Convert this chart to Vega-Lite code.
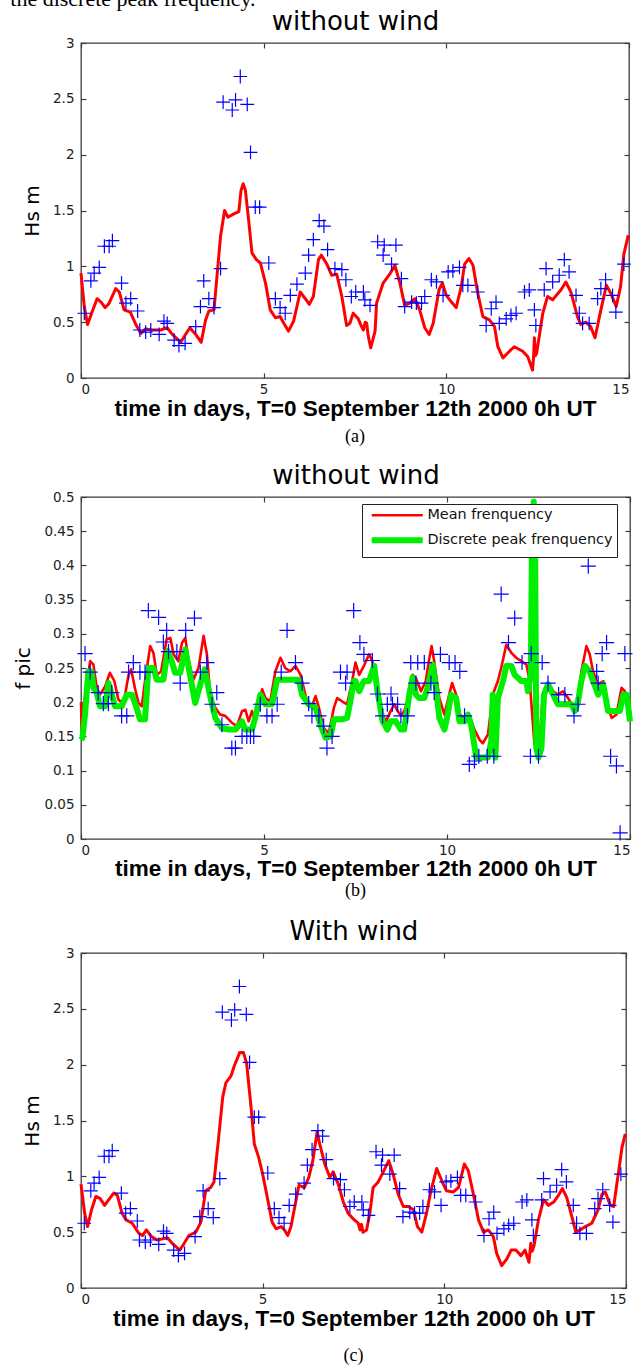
{
  "$schema": "https://vega.github.io/schema/vega-lite/v6.json",
  "padding": {"left": 10, "top": -13, "right": 2, "bottom": 2},
  "title": {"text": "the discrete peak frequency.", "anchor": "start", "font": "Liberation Serif", "fontSize": 22, "fontWeight": "normal", "baseline": "top", "offset": -3, "dx": -3, "color": "#000"},
  "spacing": 14,
  "resolve": {"scale": {"color": "independent"}, "legend": {"color": "independent"}},
  "datasets": {
    "hs_obs": [
      {"t":0.09,"hs":0.58},{"t":0.27,"hs":0.87},{"t":0.36,"hs":0.94},{"t":0.5,"hs":0.99},{"t":0.64,"hs":1.18},{"t":0.77,"hs":1.18},{"t":0.86,"hs":1.23},{"t":1.11,"hs":0.85},{"t":1.23,"hs":0.67},{"t":1.36,"hs":0.71},{"t":1.55,"hs":0.6},{"t":1.61,"hs":0.43},{"t":1.77,"hs":0.41},{"t":1.91,"hs":0.43},{"t":2.14,"hs":0.39},{"t":2.27,"hs":0.51},{"t":2.36,"hs":0.49},{"t":2.55,"hs":0.34},{"t":2.68,"hs":0.29},{"t":2.85,"hs":0.31},{"t":3.14,"hs":0.46},{"t":3.27,"hs":0.64},{"t":3.36,"hs":0.87},{"t":3.5,"hs":0.71},{"t":3.64,"hs":0.63},{"t":3.82,"hs":0.98},{"t":3.89,"hs":2.47},{"t":4.14,"hs":2.4},{"t":4.23,"hs":2.49},{"t":4.36,"hs":2.7},{"t":4.55,"hs":2.45},{"t":4.64,"hs":2.02},{"t":4.77,"hs":1.53},{"t":4.89,"hs":1.53},{"t":5.14,"hs":1.03},{"t":5.32,"hs":0.71},{"t":5.45,"hs":0.63},{"t":5.59,"hs":0.58},{"t":5.73,"hs":0.74},{"t":5.91,"hs":0.84},{"t":6.14,"hs":0.94},{"t":6.23,"hs":1.1},{"t":6.36,"hs":1.24},{"t":6.52,"hs":1.41},{"t":6.65,"hs":1.36},{"t":6.75,"hs":1.15},{"t":6.95,"hs":0.98},{"t":7.14,"hs":0.97},{"t":7.25,"hs":0.88},{"t":7.4,"hs":0.73},{"t":7.52,"hs":0.77},{"t":7.73,"hs":0.77},{"t":7.77,"hs":0.7},{"t":7.91,"hs":0.65},{"t":8.12,"hs":1.22},{"t":8.3,"hs":1.19},{"t":8.27,"hs":1.1},{"t":8.62,"hs":1.19},{"t":8.5,"hs":1.02},{"t":8.77,"hs":0.89},{"t":8.86,"hs":0.64},{"t":9.05,"hs":0.68},{"t":9.18,"hs":0.67},{"t":9.32,"hs":0.67},{"t":9.41,"hs":0.73},{"t":9.59,"hs":0.88},{"t":9.73,"hs":0.86},{"t":9.91,"hs":0.74},{"t":10.05,"hs":0.95},{"t":10.18,"hs":0.96},{"t":10.36,"hs":0.99},{"t":10.45,"hs":0.83},{"t":10.59,"hs":0.83},{"t":10.86,"hs":0.77},{"t":11.09,"hs":0.47},{"t":11.23,"hs":0.62},{"t":11.36,"hs":0.68},{"t":11.45,"hs":0.49},{"t":11.64,"hs":0.53},{"t":11.77,"hs":0.56},{"t":11.91,"hs":0.58},{"t":12.14,"hs":0.77},{"t":12.27,"hs":0.79},{"t":12.41,"hs":0.61},{"t":12.45,"hs":0.47},{"t":12.68,"hs":0.79},{"t":12.73,"hs":0.98},{"t":12.91,"hs":0.86},{"t":13.09,"hs":0.92},{"t":13.23,"hs":1.06},{"t":13.36,"hs":0.95},{"t":13.55,"hs":0.74},{"t":13.64,"hs":0.58},{"t":13.73,"hs":0.49},{"t":13.91,"hs":0.49},{"t":14.14,"hs":0.71},{"t":14.23,"hs":0.8},{"t":14.36,"hs":0.88},{"t":14.55,"hs":0.74},{"t":14.64,"hs":0.59},{"t":14.86,"hs":1.02}
    ],
    "hs_nowind": [
      {"t":0.0,"hs":0.94},{"t":0.09,"hs":0.64},{"t":0.18,"hs":0.48},{"t":0.29,"hs":0.58},{"t":0.44,"hs":0.71},{"t":0.55,"hs":0.68},{"t":0.66,"hs":0.63},{"t":0.77,"hs":0.67},{"t":0.95,"hs":0.8},{"t":1.05,"hs":0.77},{"t":1.18,"hs":0.61},{"t":1.35,"hs":0.59},{"t":1.5,"hs":0.48},{"t":1.64,"hs":0.4},{"t":1.77,"hs":0.44},{"t":1.95,"hs":0.43},{"t":2.18,"hs":0.43},{"t":2.36,"hs":0.45},{"t":2.5,"hs":0.39},{"t":2.73,"hs":0.32},{"t":2.86,"hs":0.39},{"t":2.98,"hs":0.45},{"t":3.14,"hs":0.39},{"t":3.29,"hs":0.32},{"t":3.41,"hs":0.52},{"t":3.5,"hs":0.6},{"t":3.64,"hs":0.61},{"t":3.73,"hs":0.94},{"t":3.82,"hs":1.27},{"t":3.93,"hs":1.5},{"t":4.02,"hs":1.44},{"t":4.18,"hs":1.47},{"t":4.32,"hs":1.49},{"t":4.38,"hs":1.68},{"t":4.44,"hs":1.74},{"t":4.5,"hs":1.68},{"t":4.59,"hs":1.41},{"t":4.68,"hs":1.12},{"t":4.8,"hs":1.06},{"t":4.91,"hs":1.03},{"t":5.05,"hs":0.85},{"t":5.18,"hs":0.61},{"t":5.32,"hs":0.54},{"t":5.45,"hs":0.55},{"t":5.55,"hs":0.49},{"t":5.68,"hs":0.42},{"t":5.82,"hs":0.51},{"t":6.0,"hs":0.77},{"t":6.14,"hs":0.71},{"t":6.25,"hs":0.66},{"t":6.36,"hs":0.73},{"t":6.5,"hs":1.06},{"t":6.58,"hs":1.1},{"t":6.73,"hs":1.02},{"t":6.86,"hs":0.92},{"t":7.0,"hs":0.93},{"t":7.14,"hs":0.73},{"t":7.27,"hs":0.47},{"t":7.36,"hs":0.49},{"t":7.45,"hs":0.58},{"t":7.59,"hs":0.53},{"t":7.68,"hs":0.46},{"t":7.73,"hs":0.43},{"t":7.78,"hs":0.5},{"t":7.82,"hs":0.49},{"t":7.86,"hs":0.38},{"t":7.93,"hs":0.27},{"t":8.05,"hs":0.42},{"t":8.09,"hs":0.67},{"t":8.27,"hs":0.85},{"t":8.45,"hs":0.93},{"t":8.59,"hs":1.01},{"t":8.73,"hs":0.85},{"t":8.86,"hs":0.65},{"t":9.0,"hs":0.67},{"t":9.14,"hs":0.71},{"t":9.27,"hs":0.61},{"t":9.41,"hs":0.45},{"t":9.53,"hs":0.39},{"t":9.64,"hs":0.49},{"t":9.8,"hs":0.79},{"t":9.89,"hs":0.85},{"t":10.0,"hs":0.74},{"t":10.14,"hs":0.68},{"t":10.27,"hs":0.63},{"t":10.41,"hs":0.82},{"t":10.5,"hs":1.02},{"t":10.62,"hs":1.07},{"t":10.73,"hs":1.01},{"t":10.86,"hs":0.76},{"t":11.0,"hs":0.55},{"t":11.18,"hs":0.52},{"t":11.32,"hs":0.46},{"t":11.41,"hs":0.28},{"t":11.55,"hs":0.18},{"t":11.73,"hs":0.24},{"t":11.86,"hs":0.28},{"t":12.09,"hs":0.24},{"t":12.23,"hs":0.19},{"t":12.36,"hs":0.07},{"t":12.39,"hs":0.2},{"t":12.41,"hs":0.36},{"t":12.44,"hs":0.2},{"t":12.47,"hs":0.22},{"t":12.64,"hs":0.58},{"t":12.77,"hs":0.73},{"t":12.91,"hs":0.7},{"t":13.14,"hs":0.79},{"t":13.27,"hs":0.86},{"t":13.41,"hs":0.77},{"t":13.59,"hs":0.55},{"t":13.68,"hs":0.48},{"t":13.82,"hs":0.5},{"t":13.95,"hs":0.46},{"t":14.07,"hs":0.36},{"t":14.23,"hs":0.61},{"t":14.38,"hs":0.83},{"t":14.5,"hs":0.76},{"t":14.65,"hs":0.64},{"t":14.77,"hs":0.82},{"t":14.86,"hs":1.11},{"t":14.98,"hs":1.28}
    ],
    "hs_wind": [
      {"t":0.0,"hs":0.93},{"t":0.1,"hs":0.67},{"t":0.18,"hs":0.55},{"t":0.29,"hs":0.7},{"t":0.41,"hs":0.82},{"t":0.53,"hs":0.8},{"t":0.65,"hs":0.74},{"t":0.76,"hs":0.79},{"t":0.9,"hs":0.85},{"t":1.0,"hs":0.83},{"t":1.13,"hs":0.67},{"t":1.24,"hs":0.61},{"t":1.41,"hs":0.58},{"t":1.59,"hs":0.49},{"t":1.69,"hs":0.47},{"t":1.8,"hs":0.52},{"t":1.94,"hs":0.46},{"t":2.1,"hs":0.43},{"t":2.24,"hs":0.44},{"t":2.38,"hs":0.45},{"t":2.51,"hs":0.4},{"t":2.72,"hs":0.34},{"t":2.84,"hs":0.4},{"t":2.97,"hs":0.47},{"t":3.16,"hs":0.5},{"t":3.3,"hs":0.59},{"t":3.43,"hs":0.87},{"t":3.57,"hs":0.9},{"t":3.66,"hs":0.95},{"t":3.78,"hs":1.32},{"t":3.9,"hs":1.71},{"t":3.99,"hs":1.84},{"t":4.13,"hs":1.9},{"t":4.22,"hs":1.99},{"t":4.37,"hs":2.11},{"t":4.47,"hs":2.11},{"t":4.56,"hs":2.01},{"t":4.68,"hs":1.62},{"t":4.77,"hs":1.29},{"t":4.89,"hs":1.17},{"t":5.0,"hs":1.02},{"t":5.14,"hs":0.79},{"t":5.26,"hs":0.59},{"t":5.37,"hs":0.53},{"t":5.51,"hs":0.55},{"t":5.6,"hs":0.52},{"t":5.69,"hs":0.47},{"t":5.78,"hs":0.55},{"t":5.92,"hs":0.79},{"t":6.0,"hs":0.92},{"t":6.15,"hs":0.9},{"t":6.27,"hs":0.99},{"t":6.38,"hs":1.14},{"t":6.5,"hs":1.4},{"t":6.57,"hs":1.29},{"t":6.71,"hs":1.11},{"t":6.85,"hs":0.99},{"t":6.94,"hs":1.04},{"t":7.08,"hs":0.93},{"t":7.22,"hs":0.77},{"t":7.35,"hs":0.67},{"t":7.49,"hs":0.62},{"t":7.63,"hs":0.58},{"t":7.68,"hs":0.52},{"t":7.72,"hs":0.57},{"t":7.76,"hs":0.5},{"t":7.86,"hs":0.52},{"t":7.95,"hs":0.67},{"t":8.04,"hs":0.9},{"t":8.18,"hs":0.95},{"t":8.32,"hs":1.04},{"t":8.47,"hs":1.14},{"t":8.59,"hs":1.02},{"t":8.73,"hs":0.84},{"t":8.87,"hs":0.73},{"t":9.01,"hs":0.73},{"t":9.15,"hs":0.7},{"t":9.26,"hs":0.55},{"t":9.38,"hs":0.5},{"t":9.51,"hs":0.67},{"t":9.63,"hs":0.87},{"t":9.79,"hs":1.07},{"t":9.93,"hs":0.96},{"t":10.06,"hs":0.87},{"t":10.25,"hs":0.86},{"t":10.39,"hs":0.9},{"t":10.55,"hs":1.11},{"t":10.66,"hs":1.05},{"t":10.8,"hs":0.84},{"t":10.94,"hs":0.61},{"t":11.08,"hs":0.5},{"t":11.21,"hs":0.52},{"t":11.35,"hs":0.46},{"t":11.44,"hs":0.31},{"t":11.58,"hs":0.2},{"t":11.72,"hs":0.26},{"t":11.84,"hs":0.34},{"t":11.97,"hs":0.34},{"t":12.11,"hs":0.29},{"t":12.22,"hs":0.34},{"t":12.33,"hs":0.23},{"t":12.38,"hs":0.4},{"t":12.42,"hs":0.33},{"t":12.47,"hs":0.38},{"t":12.59,"hs":0.61},{"t":12.73,"hs":0.79},{"t":12.87,"hs":0.74},{"t":13.01,"hs":0.77},{"t":13.14,"hs":0.83},{"t":13.25,"hs":0.89},{"t":13.37,"hs":0.81},{"t":13.51,"hs":0.64},{"t":13.62,"hs":0.5},{"t":13.74,"hs":0.52},{"t":13.88,"hs":0.55},{"t":14.06,"hs":0.58},{"t":14.23,"hs":0.7},{"t":14.34,"hs":0.84},{"t":14.43,"hs":0.86},{"t":14.57,"hs":0.74},{"t":14.66,"hs":0.73},{"t":14.8,"hs":1.05},{"t":14.89,"hs":1.26},{"t":14.98,"hs":1.38}
    ],
    "f_obs": [
      {"t":0.11,"f":0.271},{"t":0.25,"f":0.244},{"t":0.47,"f":0.214},{"t":0.61,"f":0.198},{"t":0.75,"f":0.198},{"t":0.84,"f":0.214},{"t":1.11,"f":0.18},{"t":1.25,"f":0.18},{"t":1.3,"f":0.244},{"t":1.43,"f":0.258},{"t":1.61,"f":0.244},{"t":1.75,"f":0.244},{"t":1.84,"f":0.334},{"t":2.12,"f":0.324},{"t":2.25,"f":0.288},{"t":2.34,"f":0.305},{"t":2.39,"f":0.274},{"t":2.62,"f":0.274},{"t":2.71,"f":0.228},{"t":2.86,"f":0.305},{"t":3.1,"f":0.323},{"t":3.26,"f":0.244},{"t":3.44,"f":0.258},{"t":3.58,"f":0.197},{"t":3.71,"f":0.214},{"t":3.85,"f":0.167},{"t":4.12,"f":0.133},{"t":4.22,"f":0.133},{"t":4.4,"f":0.15},{"t":4.53,"f":0.15},{"t":4.63,"f":0.15},{"t":4.72,"f":0.15},{"t":4.9,"f":0.197},{"t":5.08,"f":0.18},{"t":5.22,"f":0.18},{"t":5.36,"f":0.197},{"t":5.47,"f":0.244},{"t":5.63,"f":0.305},{"t":5.86,"f":0.258},{"t":6.04,"f":0.228},{"t":6.22,"f":0.198},{"t":6.31,"f":0.18},{"t":6.5,"f":0.18},{"t":6.63,"f":0.165},{"t":6.72,"f":0.133},{"t":6.86,"f":0.15},{"t":7.09,"f":0.244},{"t":7.23,"f":0.228},{"t":7.27,"f":0.244},{"t":7.45,"f":0.334},{"t":7.62,"f":0.287},{"t":7.73,"f":0.27},{"t":7.96,"f":0.261},{"t":8.1,"f":0.212},{"t":8.24,"f":0.18},{"t":8.37,"f":0.197},{"t":8.47,"f":0.212},{"t":8.51,"f":0.197},{"t":8.65,"f":0.197},{"t":8.74,"f":0.18},{"t":8.92,"f":0.18},{"t":9.01,"f":0.258},{"t":9.15,"f":0.228},{"t":9.2,"f":0.258},{"t":9.38,"f":0.258},{"t":9.56,"f":0.228},{"t":9.65,"f":0.214},{"t":9.82,"f":0.27},{"t":10.06,"f":0.258},{"t":10.22,"f":0.258},{"t":10.35,"f":0.245},{"t":10.48,"f":0.18},{"t":10.61,"f":0.109},{"t":10.75,"f":0.114},{"t":10.87,"f":0.121},{"t":11.1,"f":0.121},{"t":11.28,"f":0.121},{"t":11.48,"f":0.358},{"t":11.68,"f":0.287},{"t":11.85,"f":0.323},{"t":12.05,"f":0.258},{"t":12.28,"f":0.121},{"t":12.3,"f":0.271},{"t":12.5,"f":0.121},{"t":12.6,"f":0.258},{"t":12.76,"f":0.228},{"t":13.05,"f":0.211},{"t":13.22,"f":0.211},{"t":13.47,"f":0.18},{"t":13.58,"f":0.197},{"t":13.86,"f":0.399},{"t":14.09,"f":0.245},{"t":14.13,"f":0.228},{"t":14.24,"f":0.271},{"t":14.36,"f":0.287},{"t":14.47,"f":0.121},{"t":14.63,"f":0.107},{"t":14.73,"f":0.009},{"t":14.86,"f":0.271}
    ],
    "f_model": [
      {"t":0.0,"f":0.2,"series":"Mean frenquency"},{"t":0.02,"f":0.153,"series":"Mean frenquency"},{"t":0.06,"f":0.192,"series":"Mean frenquency"},{"t":0.16,"f":0.226,"series":"Mean frenquency"},{"t":0.25,"f":0.26,"series":"Mean frenquency"},{"t":0.34,"f":0.255,"series":"Mean frenquency"},{"t":0.43,"f":0.221,"series":"Mean frenquency"},{"t":0.52,"f":0.211,"series":"Mean frenquency"},{"t":0.66,"f":0.223,"series":"Mean frenquency"},{"t":0.79,"f":0.243,"series":"Mean frenquency"},{"t":0.91,"f":0.231,"series":"Mean frenquency"},{"t":1.02,"f":0.204,"series":"Mean frenquency"},{"t":1.16,"f":0.197,"series":"Mean frenquency"},{"t":1.3,"f":0.24,"series":"Mean frenquency"},{"t":1.37,"f":0.248,"series":"Mean frenquency"},{"t":1.48,"f":0.219,"series":"Mean frenquency"},{"t":1.57,"f":0.199,"series":"Mean frenquency"},{"t":1.66,"f":0.194,"series":"Mean frenquency"},{"t":1.75,"f":0.231,"series":"Mean frenquency"},{"t":1.89,"f":0.282,"series":"Mean frenquency"},{"t":1.98,"f":0.272,"series":"Mean frenquency"},{"t":2.07,"f":0.24,"series":"Mean frenquency"},{"t":2.19,"f":0.245,"series":"Mean frenquency"},{"t":2.34,"f":0.292,"series":"Mean frenquency"},{"t":2.44,"f":0.294,"series":"Mean frenquency"},{"t":2.53,"f":0.27,"series":"Mean frenquency"},{"t":2.66,"f":0.26,"series":"Mean frenquency"},{"t":2.76,"f":0.287,"series":"Mean frenquency"},{"t":2.85,"f":0.294,"series":"Mean frenquency"},{"t":2.94,"f":0.26,"series":"Mean frenquency"},{"t":3.07,"f":0.233,"series":"Mean frenquency"},{"t":3.21,"f":0.25,"series":"Mean frenquency"},{"t":3.35,"f":0.297,"series":"Mean frenquency"},{"t":3.44,"f":0.27,"series":"Mean frenquency"},{"t":3.53,"f":0.211,"series":"Mean frenquency"},{"t":3.67,"f":0.192,"series":"Mean frenquency"},{"t":3.8,"f":0.182,"series":"Mean frenquency"},{"t":3.94,"f":0.18,"series":"Mean frenquency"},{"t":4.12,"f":0.17,"series":"Mean frenquency"},{"t":4.26,"f":0.165,"series":"Mean frenquency"},{"t":4.4,"f":0.187,"series":"Mean frenquency"},{"t":4.49,"f":0.189,"series":"Mean frenquency"},{"t":4.58,"f":0.172,"series":"Mean frenquency"},{"t":4.67,"f":0.187,"series":"Mean frenquency"},{"t":4.76,"f":0.172,"series":"Mean frenquency"},{"t":4.85,"f":0.197,"series":"Mean frenquency"},{"t":4.95,"f":0.219,"series":"Mean frenquency"},{"t":5.04,"f":0.206,"series":"Mean frenquency"},{"t":5.17,"f":0.201,"series":"Mean frenquency"},{"t":5.31,"f":0.245,"series":"Mean frenquency"},{"t":5.45,"f":0.265,"series":"Mean frenquency"},{"t":5.58,"f":0.25,"series":"Mean frenquency"},{"t":5.72,"f":0.245,"series":"Mean frenquency"},{"t":5.86,"f":0.253,"series":"Mean frenquency"},{"t":6.0,"f":0.24,"series":"Mean frenquency"},{"t":6.13,"f":0.211,"series":"Mean frenquency"},{"t":6.22,"f":0.194,"series":"Mean frenquency"},{"t":6.31,"f":0.194,"series":"Mean frenquency"},{"t":6.41,"f":0.209,"series":"Mean frenquency"},{"t":6.5,"f":0.192,"series":"Mean frenquency"},{"t":6.63,"f":0.162,"series":"Mean frenquency"},{"t":6.77,"f":0.155,"series":"Mean frenquency"},{"t":6.91,"f":0.192,"series":"Mean frenquency"},{"t":7.0,"f":0.206,"series":"Mean frenquency"},{"t":7.14,"f":0.201,"series":"Mean frenquency"},{"t":7.27,"f":0.197,"series":"Mean frenquency"},{"t":7.41,"f":0.231,"series":"Mean frenquency"},{"t":7.5,"f":0.258,"series":"Mean frenquency"},{"t":7.6,"f":0.24,"series":"Mean frenquency"},{"t":7.73,"f":0.253,"series":"Mean frenquency"},{"t":7.87,"f":0.27,"series":"Mean frenquency"},{"t":7.96,"f":0.26,"series":"Mean frenquency"},{"t":8.05,"f":0.231,"series":"Mean frenquency"},{"t":8.19,"f":0.187,"series":"Mean frenquency"},{"t":8.33,"f":0.172,"series":"Mean frenquency"},{"t":8.46,"f":0.187,"series":"Mean frenquency"},{"t":8.56,"f":0.197,"series":"Mean frenquency"},{"t":8.65,"f":0.187,"series":"Mean frenquency"},{"t":8.74,"f":0.18,"series":"Mean frenquency"},{"t":8.83,"f":0.187,"series":"Mean frenquency"},{"t":8.92,"f":0.201,"series":"Mean frenquency"},{"t":9.06,"f":0.24,"series":"Mean frenquency"},{"t":9.15,"f":0.235,"series":"Mean frenquency"},{"t":9.29,"f":0.216,"series":"Mean frenquency"},{"t":9.42,"f":0.231,"series":"Mean frenquency"},{"t":9.52,"f":0.265,"series":"Mean frenquency"},{"t":9.58,"f":0.282,"series":"Mean frenquency"},{"t":9.65,"f":0.26,"series":"Mean frenquency"},{"t":9.79,"f":0.206,"series":"Mean frenquency"},{"t":9.93,"f":0.182,"series":"Mean frenquency"},{"t":10.06,"f":0.211,"series":"Mean frenquency"},{"t":10.14,"f":0.228,"series":"Mean frenquency"},{"t":10.25,"f":0.211,"series":"Mean frenquency"},{"t":10.34,"f":0.182,"series":"Mean frenquency"},{"t":10.48,"f":0.177,"series":"Mean frenquency"},{"t":10.61,"f":0.18,"series":"Mean frenquency"},{"t":10.75,"f":0.16,"series":"Mean frenquency"},{"t":10.89,"f":0.145,"series":"Mean frenquency"},{"t":10.98,"f":0.14,"series":"Mean frenquency"},{"t":11.12,"f":0.153,"series":"Mean frenquency"},{"t":11.25,"f":0.211,"series":"Mean frenquency"},{"t":11.39,"f":0.231,"series":"Mean frenquency"},{"t":11.48,"f":0.25,"series":"Mean frenquency"},{"t":11.62,"f":0.284,"series":"Mean frenquency"},{"t":11.76,"f":0.272,"series":"Mean frenquency"},{"t":11.89,"f":0.265,"series":"Mean frenquency"},{"t":12.03,"f":0.26,"series":"Mean frenquency"},{"t":12.17,"f":0.255,"series":"Mean frenquency"},{"t":12.26,"f":0.231,"series":"Mean frenquency"},{"t":12.39,"f":0.138,"series":"Mean frenquency"},{"t":12.53,"f":0.143,"series":"Mean frenquency"},{"t":12.62,"f":0.211,"series":"Mean frenquency"},{"t":12.76,"f":0.226,"series":"Mean frenquency"},{"t":12.9,"f":0.216,"series":"Mean frenquency"},{"t":13.03,"f":0.211,"series":"Mean frenquency"},{"t":13.17,"f":0.216,"series":"Mean frenquency"},{"t":13.31,"f":0.206,"series":"Mean frenquency"},{"t":13.45,"f":0.192,"series":"Mean frenquency"},{"t":13.58,"f":0.201,"series":"Mean frenquency"},{"t":13.67,"f":0.245,"series":"Mean frenquency"},{"t":13.81,"f":0.282,"series":"Mean frenquency"},{"t":13.9,"f":0.27,"series":"Mean frenquency"},{"t":13.99,"f":0.245,"series":"Mean frenquency"},{"t":14.13,"f":0.226,"series":"Mean frenquency"},{"t":14.27,"f":0.231,"series":"Mean frenquency"},{"t":14.4,"f":0.192,"series":"Mean frenquency"},{"t":14.5,"f":0.177,"series":"Mean frenquency"},{"t":14.63,"f":0.182,"series":"Mean frenquency"},{"t":14.77,"f":0.221,"series":"Mean frenquency"},{"t":14.86,"f":0.216,"series":"Mean frenquency"},{"t":15.0,"f":0.182,"series":"Mean frenquency"},
      {"t":0.0,"f":0.145,"series":"Discrete peak frenquency"},{"t":0.04,"f":0.148,"series":"Discrete peak frenquency"},{"t":0.11,"f":0.182,"series":"Discrete peak frenquency"},{"t":0.2,"f":0.245,"series":"Discrete peak frenquency"},{"t":0.29,"f":0.245,"series":"Discrete peak frenquency"},{"t":0.34,"f":0.221,"series":"Discrete peak frenquency"},{"t":0.43,"f":0.214,"series":"Discrete peak frenquency"},{"t":0.52,"f":0.194,"series":"Discrete peak frenquency"},{"t":0.66,"f":0.194,"series":"Discrete peak frenquency"},{"t":0.75,"f":0.228,"series":"Discrete peak frenquency"},{"t":0.84,"f":0.211,"series":"Discrete peak frenquency"},{"t":0.93,"f":0.194,"series":"Discrete peak frenquency"},{"t":1.11,"f":0.194,"series":"Discrete peak frenquency"},{"t":1.25,"f":0.211,"series":"Discrete peak frenquency"},{"t":1.39,"f":0.211,"series":"Discrete peak frenquency"},{"t":1.52,"f":0.192,"series":"Discrete peak frenquency"},{"t":1.61,"f":0.175,"series":"Discrete peak frenquency"},{"t":1.75,"f":0.175,"series":"Discrete peak frenquency"},{"t":1.84,"f":0.25,"series":"Discrete peak frenquency"},{"t":1.98,"f":0.25,"series":"Discrete peak frenquency"},{"t":2.07,"f":0.233,"series":"Discrete peak frenquency"},{"t":2.25,"f":0.233,"series":"Discrete peak frenquency"},{"t":2.37,"f":0.275,"series":"Discrete peak frenquency"},{"t":2.48,"f":0.26,"series":"Discrete peak frenquency"},{"t":2.57,"f":0.243,"series":"Discrete peak frenquency"},{"t":2.71,"f":0.243,"series":"Discrete peak frenquency"},{"t":2.85,"f":0.277,"series":"Discrete peak frenquency"},{"t":2.98,"f":0.24,"series":"Discrete peak frenquency"},{"t":3.12,"f":0.199,"series":"Discrete peak frenquency"},{"t":3.26,"f":0.226,"series":"Discrete peak frenquency"},{"t":3.38,"f":0.248,"series":"Discrete peak frenquency"},{"t":3.5,"f":0.216,"series":"Discrete peak frenquency"},{"t":3.58,"f":0.197,"series":"Discrete peak frenquency"},{"t":3.67,"f":0.177,"series":"Discrete peak frenquency"},{"t":3.85,"f":0.162,"series":"Discrete peak frenquency"},{"t":4.03,"f":0.16,"series":"Discrete peak frenquency"},{"t":4.22,"f":0.16,"series":"Discrete peak frenquency"},{"t":4.4,"f":0.172,"series":"Discrete peak frenquency"},{"t":4.49,"f":0.16,"series":"Discrete peak frenquency"},{"t":4.67,"f":0.16,"series":"Discrete peak frenquency"},{"t":4.76,"f":0.177,"series":"Discrete peak frenquency"},{"t":4.9,"f":0.211,"series":"Discrete peak frenquency"},{"t":5.04,"f":0.197,"series":"Discrete peak frenquency"},{"t":5.22,"f":0.197,"series":"Discrete peak frenquency"},{"t":5.36,"f":0.233,"series":"Discrete peak frenquency"},{"t":5.95,"f":0.233,"series":"Discrete peak frenquency"},{"t":6.04,"f":0.211,"series":"Discrete peak frenquency"},{"t":6.22,"f":0.197,"series":"Discrete peak frenquency"},{"t":6.41,"f":0.192,"series":"Discrete peak frenquency"},{"t":6.54,"f":0.167,"series":"Discrete peak frenquency"},{"t":6.68,"f":0.148,"series":"Discrete peak frenquency"},{"t":6.82,"f":0.15,"series":"Discrete peak frenquency"},{"t":6.91,"f":0.175,"series":"Discrete peak frenquency"},{"t":7.14,"f":0.175,"series":"Discrete peak frenquency"},{"t":7.27,"f":0.177,"series":"Discrete peak frenquency"},{"t":7.36,"f":0.201,"series":"Discrete peak frenquency"},{"t":7.45,"f":0.231,"series":"Discrete peak frenquency"},{"t":7.5,"f":0.231,"series":"Discrete peak frenquency"},{"t":7.6,"f":0.216,"series":"Discrete peak frenquency"},{"t":7.73,"f":0.231,"series":"Discrete peak frenquency"},{"t":7.87,"f":0.231,"series":"Discrete peak frenquency"},{"t":8.01,"f":0.253,"series":"Discrete peak frenquency"},{"t":8.1,"f":0.216,"series":"Discrete peak frenquency"},{"t":8.24,"f":0.172,"series":"Discrete peak frenquency"},{"t":8.37,"f":0.16,"series":"Discrete peak frenquency"},{"t":8.46,"f":0.172,"series":"Discrete peak frenquency"},{"t":8.6,"f":0.172,"series":"Discrete peak frenquency"},{"t":8.74,"f":0.16,"series":"Discrete peak frenquency"},{"t":8.83,"f":0.16,"series":"Discrete peak frenquency"},{"t":8.97,"f":0.211,"series":"Discrete peak frenquency"},{"t":9.06,"f":0.236,"series":"Discrete peak frenquency"},{"t":9.15,"f":0.211,"series":"Discrete peak frenquency"},{"t":9.24,"f":0.206,"series":"Discrete peak frenquency"},{"t":9.38,"f":0.206,"series":"Discrete peak frenquency"},{"t":9.47,"f":0.221,"series":"Discrete peak frenquency"},{"t":9.61,"f":0.255,"series":"Discrete peak frenquency"},{"t":9.7,"f":0.221,"series":"Discrete peak frenquency"},{"t":9.79,"f":0.177,"series":"Discrete peak frenquency"},{"t":9.93,"f":0.16,"series":"Discrete peak frenquency"},{"t":10.02,"f":0.182,"series":"Discrete peak frenquency"},{"t":10.11,"f":0.211,"series":"Discrete peak frenquency"},{"t":10.25,"f":0.206,"series":"Discrete peak frenquency"},{"t":10.34,"f":0.172,"series":"Discrete peak frenquency"},{"t":10.48,"f":0.172,"series":"Discrete peak frenquency"},{"t":10.57,"f":0.182,"series":"Discrete peak frenquency"},{"t":10.66,"f":0.167,"series":"Discrete peak frenquency"},{"t":10.8,"f":0.119,"series":"Discrete peak frenquency"},{"t":10.93,"f":0.119,"series":"Discrete peak frenquency"},{"t":11.12,"f":0.119,"series":"Discrete peak frenquency"},{"t":11.21,"f":0.143,"series":"Discrete peak frenquency"},{"t":11.25,"f":0.211,"series":"Discrete peak frenquency"},{"t":11.32,"f":0.119,"series":"Discrete peak frenquency"},{"t":11.39,"f":0.206,"series":"Discrete peak frenquency"},{"t":11.53,"f":0.231,"series":"Discrete peak frenquency"},{"t":11.62,"f":0.253,"series":"Discrete peak frenquency"},{"t":11.76,"f":0.253,"series":"Discrete peak frenquency"},{"t":11.85,"f":0.24,"series":"Discrete peak frenquency"},{"t":12.03,"f":0.231,"series":"Discrete peak frenquency"},{"t":12.17,"f":0.231,"series":"Discrete peak frenquency"},{"t":12.21,"f":0.216,"series":"Discrete peak frenquency"},{"t":12.29,"f":0.24,"series":"Discrete peak frenquency"},{"t":12.32,"f":0.426,"series":"Discrete peak frenquency"},{"t":12.37,"f":0.493,"series":"Discrete peak frenquency"},{"t":12.41,"f":0.406,"series":"Discrete peak frenquency"},{"t":12.44,"f":0.133,"series":"Discrete peak frenquency"},{"t":12.5,"f":0.119,"series":"Discrete peak frenquency"},{"t":12.58,"f":0.133,"series":"Discrete peak frenquency"},{"t":12.65,"f":0.211,"series":"Discrete peak frenquency"},{"t":12.76,"f":0.226,"series":"Discrete peak frenquency"},{"t":12.9,"f":0.211,"series":"Discrete peak frenquency"},{"t":13.03,"f":0.197,"series":"Discrete peak frenquency"},{"t":13.4,"f":0.197,"series":"Discrete peak frenquency"},{"t":13.49,"f":0.187,"series":"Discrete peak frenquency"},{"t":13.58,"f":0.201,"series":"Discrete peak frenquency"},{"t":13.67,"f":0.231,"series":"Discrete peak frenquency"},{"t":13.77,"f":0.253,"series":"Discrete peak frenquency"},{"t":13.9,"f":0.245,"series":"Discrete peak frenquency"},{"t":13.99,"f":0.231,"series":"Discrete peak frenquency"},{"t":14.13,"f":0.211,"series":"Discrete peak frenquency"},{"t":14.27,"f":0.226,"series":"Discrete peak frenquency"},{"t":14.4,"f":0.187,"series":"Discrete peak frenquency"},{"t":14.72,"f":0.187,"series":"Discrete peak frenquency"},{"t":14.82,"f":0.211,"series":"Discrete peak frenquency"},{"t":14.91,"f":0.211,"series":"Discrete peak frenquency"},{"t":15.0,"f":0.172,"series":"Discrete peak frenquency"}
    ]
  },
  "vconcat": [
    {
      "width": 548, "height": 335,
      "title": {"text": "(a)", "orient": "bottom", "font": "Liberation Serif", "fontSize": 18, "fontWeight": "normal", "baseline": "top", "offset": 8, "color": "#000"},
      "layer": [
        {
          "data": {"name": "hs_nowind"},
          "mark": {"type": "line", "stroke": "#ff0000", "strokeWidth": 3, "strokeJoin": "round"},
          "encoding": {
            "x": {"field": "t", "type": "quantitative", "scale": {"domain": [0, 15], "nice": false},
                  "axis": {"orient": "top", "values": [0, 5, 10, 15], "labels": false, "title": "without wind", "titleFont": "DejaVu Sans", "titleFontSize": 26, "titleFontWeight": "normal", "titlePadding": 8}},
            "y": {"field": "hs", "type": "quantitative", "scale": {"domain": [0, 3], "nice": false},
                  "axis": {"orient": "right", "values": [0, 0.5, 1, 1.5, 2, 2.5, 3], "labels": false, "title": null}}
          }
        },
        {
          "data": {"name": "hs_obs"},
          "mark": {"type": "point", "shape": "M-1,0H1M0,-1V1", "filled": false, "stroke": "#0000ff", "strokeWidth": 1.2, "size": 190, "opacity": 1},
          "encoding": {
            "x": {"field": "t", "type": "quantitative",
                  "axis": {"orient": "bottom", "values": [0, 5, 10, 15], "format": "~g", "title": "time in days, T=0 September 12th 2000 0h UT"}},
            "y": {"field": "hs", "type": "quantitative",
                  "axis": {"orient": "left", "values": [0, 0.5, 1, 1.5, 2, 2.5, 3], "format": "~g", "title": "Hs m"}}
          }
        }
      ],
      "resolve": {"axis": {"x": "independent", "y": "independent"}}
    },
    {
      "width": 549, "height": 342,
      "title": {"text": "(b)", "subtitle": " ", "subtitleFontSize": 1, "subtitlePadding": 1, "orient": "bottom", "font": "Liberation Serif", "fontSize": 18, "fontWeight": "normal", "baseline": "top", "offset": 2, "color": "#000"},
      "layer": [
        {
          "data": {"name": "f_model"},
          "transform": [{"filter": "datum.series === 'Mean frenquency'"}],
          "mark": {"type": "line", "strokeWidth": 2.6, "strokeJoin": "round"},
          "encoding": {
            "x": {"field": "t", "type": "quantitative", "scale": {"domain": [0, 15], "nice": false},
                  "axis": {"orient": "top", "values": [0, 5, 10, 15], "labels": false, "title": "without wind", "titleFont": "DejaVu Sans", "titleFontSize": 26, "titleFontWeight": "normal", "titlePadding": 8}},
            "y": {"field": "f", "type": "quantitative", "scale": {"domain": [0, 0.5], "nice": false},
                  "axis": {"orient": "right", "values": [0, 0.05, 0.1, 0.15, 0.2, 0.25, 0.3, 0.35, 0.4, 0.45, 0.5], "labels": false, "title": null}},
            "color": {"field": "series", "type": "nominal",
                      "scale": {"domain": ["Mean frenquency", "Discrete peak frenquency"], "range": ["#ff0000", "#00ee00"]},
                      "legend": {"orient": "none", "legendX": 281, "legendY": 7, "title": null, "symbolType": "stroke", "symbolSize": 2601,
                                 "labelFont": "DejaVu Sans", "labelFontSize": 14.4, "labelColor": "#111", "labelLimit": 400, "padding": 4, "symbolOffset": 24, "labelOffset": 23, "rowPadding": 6,
                                 "strokeColor": "#222", "fillColor": "#ffffff", "cornerRadius": 0,
                                 "encode": {"symbols": {"update": {"strokeWidth": {"signal": "datum.value === 'Discrete peak frenquency' ? 6 : 2.4"}}}}}}
          }
        },
        {
          "data": {"name": "f_model"},
          "transform": [{"filter": "datum.series === 'Discrete peak frenquency'"}],
          "mark": {"type": "line", "strokeWidth": 6, "strokeJoin": "round"},
          "encoding": {
            "x": {"field": "t", "type": "quantitative", "axis": null},
            "y": {"field": "f", "type": "quantitative", "axis": null},
            "color": {"field": "series", "type": "nominal"}
          }
        },
        {
          "data": {"name": "f_obs"},
          "mark": {"type": "point", "shape": "M-1,0H1M0,-1V1", "filled": false, "stroke": "#0000ff", "strokeWidth": 1.2, "size": 230, "opacity": 1},
          "encoding": {
            "x": {"field": "t", "type": "quantitative",
                  "axis": {"orient": "bottom", "values": [0, 5, 10, 15], "format": "~g", "title": "time in days, T=0 September 12th 2000 0h UT", "titlePadding": 1}},
            "y": {"field": "f", "type": "quantitative",
                  "axis": {"orient": "left", "values": [0, 0.05, 0.1, 0.15, 0.2, 0.25, 0.3, 0.35, 0.4, 0.45, 0.5], "format": "~g", "title": "f pic"}}
          }
        }
      ],
      "resolve": {"axis": {"x": "independent", "y": "independent"}}
    },
    {
      "width": 545, "height": 335,
      "title": {"text": "(c)", "orient": "bottom", "font": "Liberation Serif", "fontSize": 18, "fontWeight": "normal", "baseline": "top", "offset": 17, "color": "#000"},
      "layer": [
        {
          "data": {"name": "hs_wind"},
          "mark": {"type": "line", "stroke": "#ff0000", "strokeWidth": 3, "strokeJoin": "round"},
          "encoding": {
            "x": {"field": "t", "type": "quantitative", "scale": {"domain": [0, 15], "nice": false},
                  "axis": {"orient": "top", "values": [0, 5, 10, 15], "labels": false, "title": "With wind", "titleFont": "DejaVu Sans", "titleFontSize": 26, "titleFontWeight": "normal", "titlePadding": 8}},
            "y": {"field": "hs", "type": "quantitative", "scale": {"domain": [0, 3], "nice": false},
                  "axis": {"orient": "right", "values": [0, 0.5, 1, 1.5, 2, 2.5, 3], "labels": false, "title": null}}
          }
        },
        {
          "data": {"name": "hs_obs"},
          "mark": {"type": "point", "shape": "M-1,0H1M0,-1V1", "filled": false, "stroke": "#0000ff", "strokeWidth": 1.2, "size": 190, "opacity": 1},
          "encoding": {
            "x": {"field": "t", "type": "quantitative",
                  "axis": {"orient": "bottom", "values": [0, 5, 10, 15], "format": "~g", "title": "time in days, T=0 September 12th 2000 0h UT"}},
            "y": {"field": "hs", "type": "quantitative",
                  "axis": {"orient": "left", "values": [0, 0.5, 1, 1.5, 2, 2.5, 3], "format": "~g", "title": "Hs m"}}
          }
        }
      ],
      "resolve": {"axis": {"x": "independent", "y": "independent"}}
    }
  ],
  "config": {
    "background": "#ffffff",
    "view": {"stroke": "#3c3c3c", "strokeWidth": 1.3},
    "axis": {
      "domain": false, "grid": false,
      "tickSize": -5, "tickColor": "#3c3c3c", "tickWidth": 1.2,
      "labelFont": "DejaVu Sans", "labelFontSize": 13.5, "labelColor": "#222", "labelPadding": 9,
      "titleFont": "DejaVu Sans", "titleColor": "#000", "titleFontWeight": "normal"
    },
    "axisBottom": {"titleFont": "Liberation Sans", "titleFontWeight": "bold", "titleFontSize": 22.5, "titlePadding": 2},
    "axisLeft": {"titleFontSize": 20, "titlePadding": 10, "labelPadding": 12}
  }
}
